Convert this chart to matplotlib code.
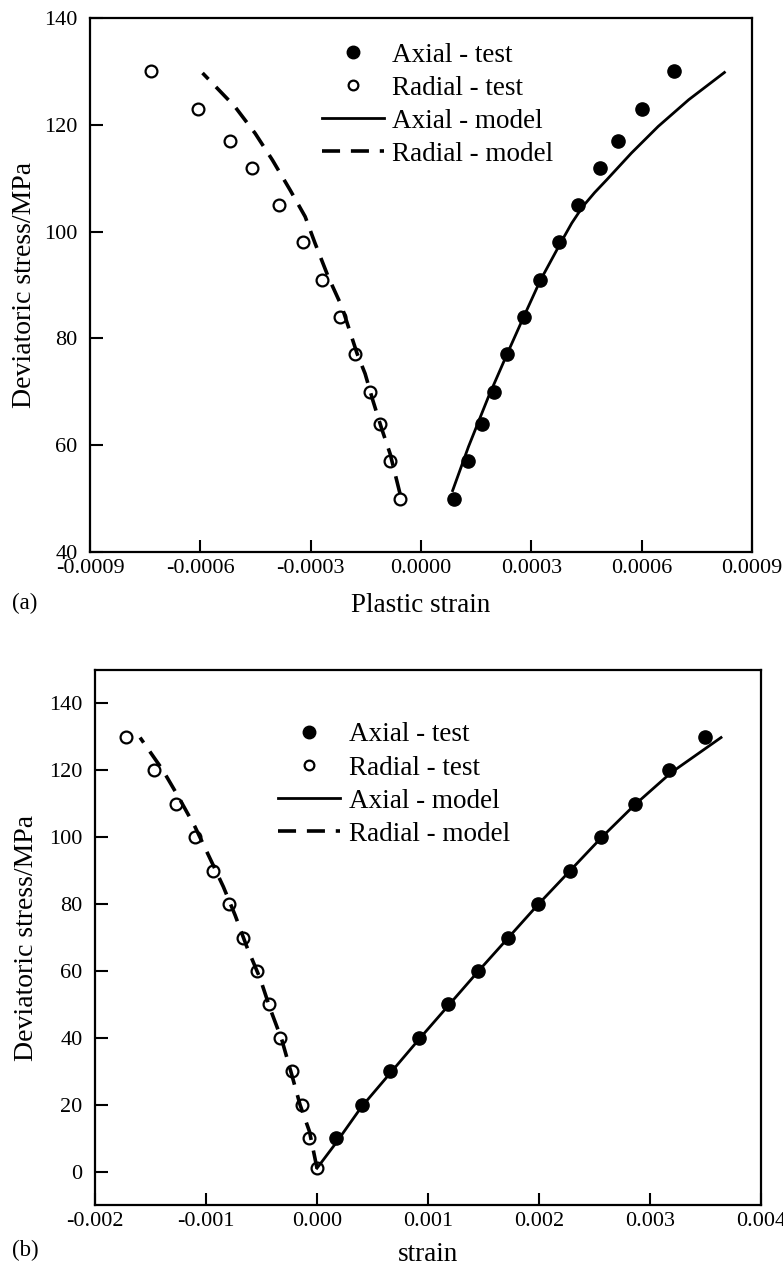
import matplotlib
matplotlib.use("Agg")
import matplotlib.pyplot as plt
from matplotlib.lines import Line2D

plt.rcParams['font.family'] = ['Liberation Serif', 'DejaVu Serif']
plt.rcParams['axes.unicode_minus'] = False

# (a) plastic strain vs deviatoric stress
stress_a = [50, 57, 64, 70, 77, 84, 91, 98, 105, 112, 117, 123, 130]
axial_test_a = [0.000091, 0.000129, 0.000166, 0.000199, 0.000235, 0.000279, 0.000324,
                0.000376, 0.000428, 0.000487, 0.000535, 0.000601, 0.000687]
radial_test_a = [-0.000057, -0.000084, -0.000111, -0.000140, -0.000179, -0.000219, -0.000268,
                 -0.000322, -0.000386, -0.000460, -0.000519, -0.000605, -0.000735]

axial_model_a_x = [0.000086, 0.000129, 0.000183, 0.000233, 0.000279, 0.000324, 0.000379,
                   0.000410, 0.000440, 0.000472, 0.000505, 0.000572, 0.000645, 0.000728, 0.000825]
axial_model_a_y = [51.5, 59.7, 69.0, 76.9, 84.0, 90.8, 97.8, 101.6, 104.7, 107.3, 109.7, 114.7,
                   119.7, 124.7, 129.8]
radial_model_a_x = [-0.000057, -0.000084, -0.000107, -0.000131, -0.000152, -0.000174, -0.000215,
                    -0.000252, -0.000288, -0.000315, -0.000356, -0.000404, -0.000451, -0.000506, -0.000594]
radial_model_a_y = [50.9, 58.4, 63.1, 68.4, 73.4, 77.2, 85.9, 91.5, 97.8, 102.8, 107.8, 113.4,
                    118.4, 123.4, 129.7]

# (b) total strain vs deviatoric stress
stress_b_axial = [10, 20, 30, 40, 50, 60, 70, 80, 90, 100, 110, 120, 130]
axial_test_b = [0.000169, 0.000404, 0.000659, 0.000920, 0.001184, 0.001449, 0.001720,
                0.001990, 0.002275, 0.002561, 0.002861, 0.003167, 0.003498]
stress_b_radial = [1, 10, 20, 30, 40, 50, 60, 70, 80, 90, 100, 110, 120, 130]
radial_test_b = [0.000004, -0.000068, -0.000137, -0.000227, -0.000333, -0.000429, -0.000543,
                 -0.000669, -0.000792, -0.000939, -0.001099, -0.001273, -0.001468, -0.001721]

axial_model_b_x = [0.0, 0.00017, 0.00040, 0.00092, 0.00145, 0.00199, 0.00256, 0.00286, 0.00319, 0.00364]
axial_model_b_y = [1.0, 8.5, 19.3, 39.6, 59.8, 79.8, 99.8, 109.6, 119.3, 129.8]
radial_model_b_x = [0.0, -0.000068, -0.000152, -0.000227, -0.000317, -0.000423, -0.000513, -0.000633,
                    -0.000738, -0.000844, -0.000979, -0.001099, -0.001249, -0.00139, -0.001594]
radial_model_b_y = [1.0, 12.0, 19.9, 28.9, 39.4, 48.8, 57.8, 67.3, 76.7, 85.2, 94.7, 103.1, 112.1, 120.1, 129.8]

xticks_a = [-0.0009, -0.0006, -0.0003, 0.0, 0.0003, 0.0006, 0.0009]
yticks_a = [40, 60, 80, 100, 120, 140]
xticks_b = [-0.002, -0.001, 0.0, 0.001, 0.002, 0.003, 0.004]
yticks_b = [0, 20, 40, 60, 80, 100, 120, 140]

labels = ['Axial - test', 'Radial - test', 'Axial - model', 'Radial - model']

TICK_FS = 16
LABEL_FS = 19.5


def draw_panel(ax, ax_x, ax_y, rad_x, rad_y, am_x, am_y, rm_x, rm_y):
    ax.plot(am_x, am_y, color='black', lw=2.0, zorder=2)
    ax.plot(rm_x, rm_y, color='black', lw=2.6, dashes=(5, 3), zorder=2)
    ax.plot(ax_x, ax_y, 'o', color='black', ms=9.5, zorder=3)
    ax.plot(rad_x, rad_y, 'o', mfc='none', mec='black', mew=1.6, ms=8.5, zorder=3)

    for s in ax.spines.values():
        s.set_linewidth(1.6)
    ax.tick_params(direction='in', length=9, width=1.5, labelsize=TICK_FS,
                   top=False, right=False)
    ax.tick_params(axis='x', pad=5)
    ax.tick_params(axis='y', pad=9)

    handles = [
        Line2D([], [], ls='none', marker='o', color='black', ms=9),
        Line2D([], [], ls='none', marker='o', mfc='none', mec='black', mew=1.6, ms=7),
        Line2D([], [], color='black', lw=2.0),
        Line2D([], [], color='black', lw=2.6, dashes=(5, 3)),
    ]
    return handles


def add_legend(ax, handles, anchor):
    ax.legend(handles, labels, loc='upper left', bbox_to_anchor=anchor, frameon=False,
              fontsize=LABEL_FS, handlelength=2.3, handletextpad=0.3, labelspacing=0.3,
              borderpad=0, borderaxespad=0, numpoints=1)


fig = plt.figure(figsize=(7.83, 12.77), dpi=100)

ax1 = fig.add_axes([90 / 783, 1 - 552 / 1277, 662 / 783, 534 / 1277])
h = draw_panel(ax1, axial_test_a, stress_a, radial_test_a, stress_a,
               axial_model_a_x, axial_model_a_y, radial_model_a_x, radial_model_a_y)
ax1.set_xlim(-0.0009, 0.0009)
ax1.set_ylim(40, 140)
ax1.set_xticks(xticks_a)
ax1.set_xticklabels(['%.4f' % abs(v) if v == 0 else '%.4f' % v for v in xticks_a])
ax1.set_yticks(yticks_a)
ax1.set_xlabel('Plastic strain', fontsize=LABEL_FS, labelpad=11)
ax1.set_ylabel('Deviatoric stress/MPa', fontsize=20)
ax1.yaxis.set_label_coords(-0.08, 0.5)
add_legend(ax1, h, (0.35, 0.954))
fig.text(12 / 783, 1 - 603 / 1277, '(a)', fontsize=16.5, va='center', ha='left')

ax2 = fig.add_axes([95 / 783, 1 - 1205 / 1277, 666 / 783, 535 / 1277])
h = draw_panel(ax2, axial_test_b, stress_b_axial, radial_test_b, stress_b_radial,
               axial_model_b_x, axial_model_b_y, radial_model_b_x, radial_model_b_y)
ax2.set_xlim(-0.002, 0.004)
ax2.set_ylim(-10, 150)
ax2.set_xticks(xticks_b)
ax2.set_xticklabels(['%.3f' % abs(v) if v == 0 else '%.3f' % v for v in xticks_b])
ax2.set_yticks(yticks_b)
ax2.set_xlabel('strain', fontsize=LABEL_FS, labelpad=8)
ax2.set_ylabel('Deviatoric stress/MPa', fontsize=20)
ax2.yaxis.set_label_coords(-0.084, 0.5)
add_legend(ax2, h, (0.275, 0.902))
fig.text(12 / 783, 1 - 1250 / 1277, '(b)', fontsize=16.5, va='center', ha='left')

fig.savefig('out.png', dpi=100)
